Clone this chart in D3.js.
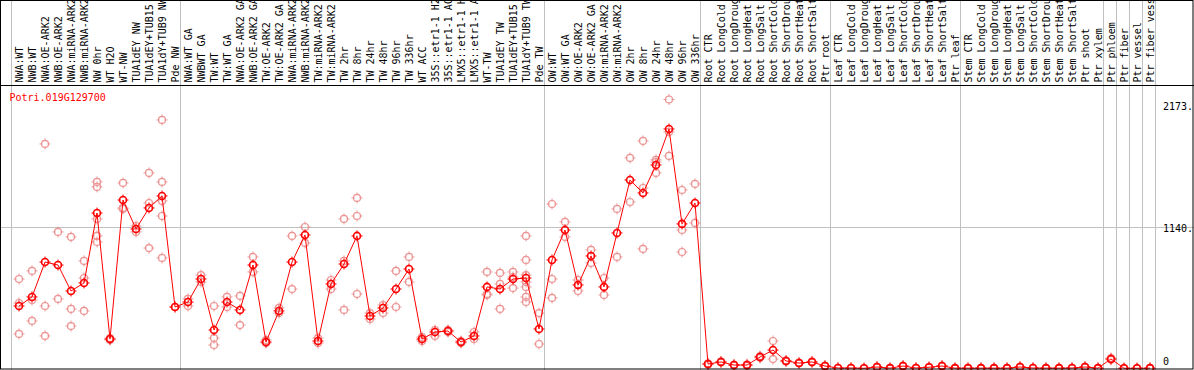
<!DOCTYPE html>
<html>
<head>
<meta charset="utf-8">
<script src="https://cdn.jsdelivr.net/npm/d3@7"></script>
<style>
body { margin: 0; background: #fff; }
svg { display: block; }
text { font-family: "DejaVu Sans Mono", monospace; font-size: 10px; }
</style>
</head>
<body>
<div class="canvas"></div>
<script>
// what is shown
var gene = 'Potri.019G129700';

var labels = [
    'NWA:WT', 'NWB:WT', 'NWA:OE-ARK2', 'NWB:OE-ARK2', 'NWA:miRNA-ARK2', 'NWB:miRNA-ARK2',
    'NW 0hr', 'WT H2O', 'WT-NW', 'TUA1dEY NW', 'TUA1dEY+TUB15', 'TUA1dY+TUB9 NW', 'Pde NW',
    'NWA:WT GA', 'NWBWT GA', 'TW:WT', 'TW:WT GA', 'NWA:OE-ARK2 GA', 'NWB:OE-ARK2 GA',
    'TW:OE-ARK2', 'TW:OE-ARK2 GA', 'NWA:miRNA-ARK2', 'NWB:miRNA-ARK2', 'TW:miRNA-ARK2',
    'TW:miRNA-ARK2', 'TW 2hr', 'TW 8hr', 'TW 24hr', 'TW 48hr', 'TW 96hr', 'TW 336hr',
    'WT ACC', '35S::etr1-1 H2', '35S::etr1-1 AC', 'LMX5::etr1-1 H', 'LMX5::etr1-1 A',
    'WT-TW', 'TUA1dEY TW', 'TUA1dEY+TUB15', 'TUA1dY+TUB9 TW', 'Pde TW',
    'OW:WT', 'OW:WT GA', 'OW:OE-ARK2', 'OW:OE-ARK2 GA', 'OW:miRNA-ARK2', 'OW:miRNA-ARK2',
    'OW 2hr', 'OW 8hr', 'OW 24hr', 'OW 48hr', 'OW 96hr', 'OW 336hr',
    'Root CTR', 'Root LongCold', 'Root LongDroug', 'Root LongHeat', 'Root LongSalt',
    'Root ShortCold', 'Root ShortDrou', 'Root ShortHeat', 'Root ShortSalt', 'Ptr root',
    'Leaf CTR', 'Leaf LongCold', 'Leaf LongDroug', 'Leaf LongHeat', 'Leaf LongSalt',
    'Leaf ShortCold', 'Leaf ShortDrou', 'Leaf ShortHeat', 'Leaf ShortSalt', 'Ptr leaf',
    'Stem CTR', 'Stem LongCold', 'Stem LongDroug', 'Stem LongHeat', 'Stem LongSalt',
    'Stem ShortCold', 'Stem ShortDrou', 'Stem ShortHeat', 'Stem ShortSalt', 'Ptr shoot',
    'Ptr xylem', 'Ptr phloem', 'Ptr fiber', 'Ptr vessel', 'Ptr fiber vess'
];

var means = [
    505, 578, 860, 836, 626, 691, 1256, 238, 1361, 1127, 1297, 1394, 497,
    537, 723, 311, 537, 473, 836, 214, 465, 860, 1079, 222, 683, 844, 1071,
    424, 489, 642, 804, 238, 295, 303, 214, 263, 659, 642, 723, 731, 319,
    877, 1119, 675, 909, 659, 1095, 1523, 1418, 1644, 1935, 1168, 1337,
    36, 53, 28, 28, 93, 149, 61, 44, 53, 20,
    4, 4, 2, 12, 3, 20, 4, 10, 20, 3,
    3, 3, 3, 3, 12, 4, 3, 3, 4, 12,
    3, 77, 2, 2, 3
];

var reps = [
    [723, 529, 279], [788, 553, 384], [1814, 505, 263], [1103, 562], [1063, 481, 343],
    [869, 731, 465], [1507, 1467, 1208, 1071, 1022], [246, 230], [1499, 1289, 1297],
    [1151, 1103], [1580, 1337, 973], [2008, 1507, 1354, 1232, 893], [497],
    [562, 505], [755, 699], [505, 246, 190], [578, 497], [586, 351], [901, 780],
    [230, 206], [489, 448], [1071, 642], [1143, 1014], [246, 206], [715, 642],
    [1208, 869, 473], [1378, 1232, 602], [448, 400], [513, 448], [788, 497],
    [901, 699], [254, 222], [311, 263], [311, 295], [222, 206], [295, 238],
    [780, 602, 594], [772, 683, 481], [780, 739, 650],
    [1071, 877, 755, 699, 659, 578, 537], [448, 198],
    [1329, 723, 570], [1184, 1063], [715, 626], [958, 852], [731, 594], [1289, 901],
    [1701, 1345], [1838, 1458, 966], [1685, 1668, 1580], [2173, 1911, 1717],
    [1442, 1119, 941], [1491, 1176],
    [30, 42], [48, 58], [24, 32], [22, 34], [86, 100], [222, 76], [56, 66], [40, 48],
    [48, 58], [16, 24],
    [2, 6], [2, 6], [1, 3], [8, 16], [1, 5], [16, 24], [2, 6], [6, 14], [16, 24], [1, 5],
    [1, 5], [1, 5], [1, 5], [1, 5], [8, 16], [2, 6], [1, 5], [1, 5], [2, 6], [8, 16],
    [1, 5], [70, 84], [1, 3], [1, 3], [1, 5]
];

// first column of each block, a grey line goes before it
var groupStarts = [0, 13, 41, 53, 63, 73, 84, 85, 86, 87, 88];

var gridValues = [1140],
    tickValues = [2173, 1140, 0],
    tickLabels = ['2173.', '1140.', '0'];

// where does it live
var width = 1194,
    height = 370,
    labelBottom = 85;

var x = d3.scaleLinear()
    .domain([0, labels.length - 1])
    .range([19, 1150]);

var y = d3.scaleLinear()
    .domain([0, 2173])
    .range([368.5, 99.5]);

var svg = d3.select('.canvas').append('svg')
    .attr('width', width)
    .attr('height', height);

// grey block lines, full height
svg.selectAll('line.vgrid')
    .data(groupStarts)
    .enter()
    .append('line')
    .attr('class', 'vgrid')
    .attr('x1', function (d) { return Math.round(x(d) - 8) + 0.5; })
    .attr('x2', function (d) { return Math.round(x(d) - 8) + 0.5; })
    .attr('y1', 0)
    .attr('y2', height)
    .attr('stroke', '#c0c0c0');

svg.selectAll('line.hgrid')
    .data(gridValues)
    .enter()
    .append('line')
    .attr('class', 'hgrid')
    .attr('x1', 0)
    .attr('x2', width)
    .attr('y1', function (d) { return Math.round(y(d)) + 0.5; })
    .attr('y2', function (d) { return Math.round(y(d)) + 0.5; })
    .attr('stroke', '#c0c0c0');

// sample names, read upwards
svg.selectAll('text.lab')
    .data(labels)
    .enter()
    .append('text')
    .attr('class', 'lab')
    .attr('transform', function (d, i) {
        return 'translate(' + (x(i) + 4) + ',' + (labelBottom - 2.5) + ') rotate(-90)';
    })
    .text(function (d) { return d; });

// right hand values
svg.selectAll('text.tick')
    .data(tickValues)
    .enter()
    .append('text')
    .attr('class', 'tick')
    .attr('x', 1163)
    .attr('y', function (d) { return Math.max(110, Math.min(365, y(d) + 4.5)); })
    .text(function (d, i) { return tickLabels[i]; });

svg.append('text')
    .attr('x', 9.5)
    .attr('y', 101)
    .attr('fill', '#ff0000')
    .text(gene);

// a ring with four little ticks
function marker(g, colour, sw) {
    g.append('circle')
        .attr('r', 3.5)
        .attr('fill', 'none')
        .attr('stroke', colour)
        .attr('stroke-width', sw);
    g.append('path')
        .attr('d', 'M0,-5.5V-2.5M0,2.5V5.5M-5.5,0H-2.5M2.5,0H5.5')
        .attr('stroke', colour)
        .attr('stroke-width', 1);
}

var repData = [];
reps.forEach(function (r, i) {
    r.forEach(function (v) { repData.push({ i: i, v: v }); });
});

svg.selectAll('g.rep')
    .data(repData)
    .enter()
    .append('g')
    .attr('class', 'rep')
    .attr('transform', function (d) { return 'translate(' + x(d.i) + ',' + y(d.v) + ')'; })
    .each(function () { marker(d3.select(this), '#ec9494', 1.2); });

var line = d3.line()
    .x(function (d, i) { return x(i); })
    .y(function (d) { return y(d); });

svg.append('path')
    .datum(means)
    .attr('d', line)
    .attr('fill', 'none')
    .attr('stroke', '#ff0000')
    .attr('stroke-width', 1);

svg.selectAll('g.mean')
    .data(means)
    .enter()
    .append('g')
    .attr('class', 'mean')
    .attr('transform', function (d, i) { return 'translate(' + x(i) + ',' + y(d) + ')'; })
    .each(function () { marker(d3.select(this), '#ff0000', 1.6); });

// black frame and the line under the names
svg.append('line')
    .attr('x1', 0)
    .attr('x2', width)
    .attr('y1', labelBottom + 0.5)
    .attr('y2', labelBottom + 0.5)
    .attr('stroke', '#000');

svg.append('rect')
    .attr('x', 0.5)
    .attr('y', 0.5)
    .attr('width', width - 1.5)
    .attr('height', height - 1.5)
    .attr('fill', 'none')
    .attr('stroke', '#000');
</script>
</body>
</html>
